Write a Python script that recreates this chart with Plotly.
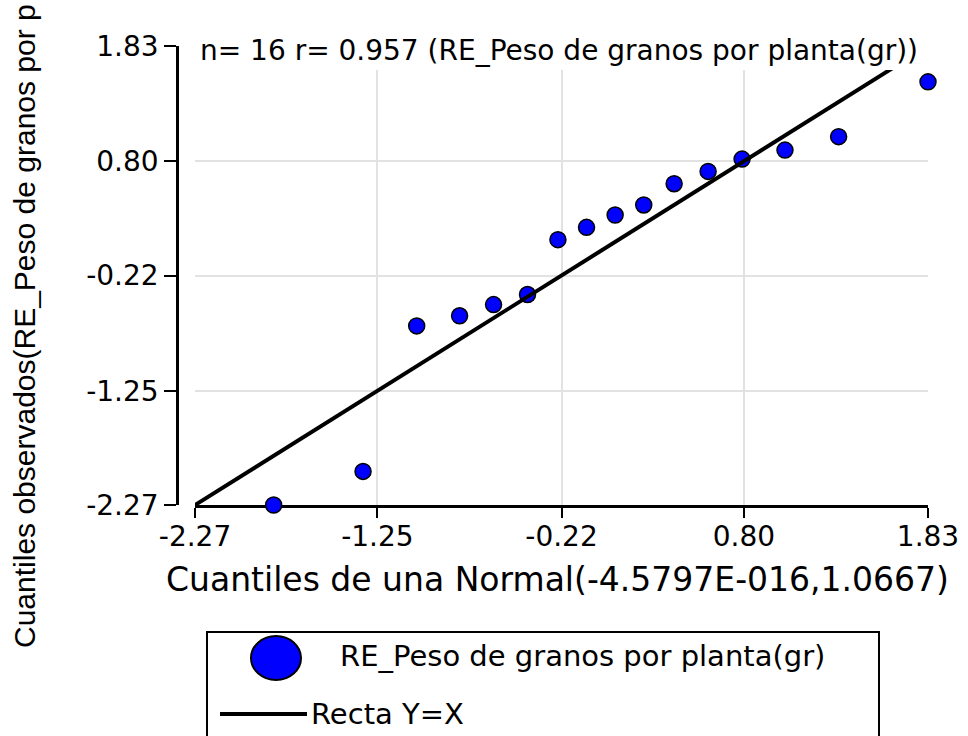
import plotly.graph_objects as go

# ---------------- data ----------------
normal_quantiles = [-1.83, -1.33, -1.03, -0.79, -0.60, -0.41, -0.24, -0.08,
                    0.08, 0.24, 0.41, 0.60, 0.79, 1.03, 1.33, 1.83]
observed_quantiles = [-2.27, -1.97, -0.67, -0.58, -0.48, -0.39, 0.10, 0.21,
                      0.32, 0.41, 0.60, 0.71, 0.82, 0.90, 1.02, 1.51]
ref_line_x = [-2.27, 1.83]
ref_line_y = [-2.27, 1.83]
tick_vals = [-2.27, -1.25, -0.22, 0.80, 1.83]
tick_text = ["-2.27", "-1.25", "-0.22", "0.80", "1.83"]
series_name = "RE_Peso de granos por planta(gr)"
line_name = "Recta Y=X"
title_text = "n= 16 r= 0.957 (RE_Peso de granos por planta(gr))"
x_title = "Cuantiles de una Normal(-4.5797E-016,1.0667)"
y_title = "Cuantiles observados(RE_Peso de granos por p"

# ---------------- layout geometry (pixels) ----------------
W, H = 968, 736
L, R, T, B = 177, 40, 46, 231
PW = W - L - R
PH = H - T - B
plot_left_px = 195


def px(xp):
    return (xp - L) / PW


def py(yp):
    return (H - B - yp) / PH


FONT = "DejaVu Sans"

fig = go.Figure()
fig.add_trace(go.Scatter(
    x=normal_quantiles, y=observed_quantiles, mode="markers",
    name=series_name, cliponaxis=False,
    marker=dict(size=16, color="#0000FF", line=dict(color="black", width=1.5)),
    showlegend=False,
))
fig.add_trace(go.Scatter(
    x=ref_line_x, y=ref_line_y, mode="lines", name=line_name,
    line=dict(color="black", width=4), showlegend=False,
))

axis_common = dict(
    tickvals=tick_vals, ticktext=tick_text,
    showgrid=True, gridcolor="#e2e2e2", gridwidth=2,
    showline=True, linecolor="black", linewidth=2.5,
    ticks="outside", tickcolor="black", tickwidth=2,
    tickfont=dict(family=FONT, size=28, color="black"),
    zeroline=False, layer="below traces", automargin=False,
)

fig.update_layout(
    width=W, height=H,
    margin=dict(l=L, r=R, t=T, b=B, pad=0, autoexpand=False),
    paper_bgcolor="white", plot_bgcolor="white",
    showlegend=False,
    xaxis=dict(range=[-2.27, 1.83], domain=[px(plot_left_px), 1], ticklen=10,
               anchor="y", ticklabelstandoff=-5, **axis_common),
    yaxis=dict(range=[-2.27, 1.83], domain=[0, 1], ticklen=12,
               anchor="free", position=0, **axis_common),
)

shapes = [
    # white band behind the in-plot title
    dict(type="rect", xref="paper", yref="paper", layer="above",
         x0=px(197), x1=px(940), y0=py(70), y1=py(30),
         fillcolor="white", line=dict(width=0)),
    # legend frame
    dict(type="rect", xref="paper", yref="paper", layer="above",
         x0=px(207), x1=px(879), y0=py(632), y1=py(780),
         fillcolor="rgba(0,0,0,0)", line=dict(color="black", width=2)),
    # legend marker
    dict(type="circle", xref="paper", yref="paper", layer="above",
         x0=px(251), x1=px(301), y0=py(636), y1=py(680),
         fillcolor="#0000FF", line=dict(color="black", width=2)),
    # legend line
    dict(type="line", xref="paper", yref="paper", layer="above",
         x0=px(220), x1=px(307), y0=py(714), y1=py(714),
         line=dict(color="black", width=4)),
]
fig.update_layout(shapes=shapes)

annotations = [
    dict(text=title_text, xref="paper", yref="paper", x=px(198), y=py(50),
         xanchor="left", yanchor="middle", showarrow=False,
         font=dict(family=FONT, size=28, color="black")),
    dict(text=x_title, xref="paper", yref="paper", x=px(557), y=py(579),
         xanchor="center", yanchor="middle", showarrow=False,
         font=dict(family=FONT, size=33, color="black")),
    dict(text=y_title, xref="paper", yref="paper", x=px(24), y=py(650),
         xanchor="center", yanchor="bottom", textangle=-90, showarrow=False,
         font=dict(family="Liberation Sans", size=30, color="black")),
    dict(text=series_name, xref="paper", yref="paper", x=px(338), y=py(656),
         xanchor="left", yanchor="middle", showarrow=False,
         font=dict(family=FONT, size=29, color="black")),
    dict(text=line_name, xref="paper", yref="paper", x=px(309), y=py(714),
         xanchor="left", yanchor="middle", showarrow=False,
         font=dict(family=FONT, size=29, color="black")),
]
fig.update_layout(annotations=annotations)

fig.write_html("out.html")
